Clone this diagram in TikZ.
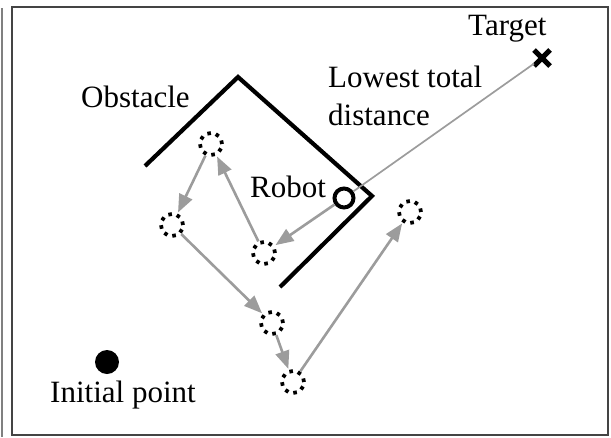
\documentclass[tikz,border=0pt]{standalone}
\usepackage{fontspec}
\setmainfont{Liberation Serif}
\usetikzlibrary{arrows.meta,shapes.misc}
\definecolor{pathgray}{HTML}{9C9C9C}
\definecolor{framegray}{HTML}{444444}
\tikzset{
  waypoint/.style={circle, draw=black, line width=3.8pt, minimum size=22pt, inner sep=0pt,
    dash pattern=on 3.6pt off 5.04pt},
  robotnode/.style={circle, draw=black, line width=4pt, minimum size=19pt, inner sep=0pt},
  startnode/.style={circle, fill=black, minimum size=24pt, inner sep=0pt},
  targetnode/.style={cross out, draw=black, line width=5pt, minimum size=11pt, inner sep=0pt},
  label/.style={inner sep=0pt, anchor=base west, font=\fontsize{31}{38}\selectfont},
  move/.style={draw=pathgray, line width=2.6pt, -{Triangle[length=18pt,width=14pt]}, shorten >=1pt},
  guide/.style={draw=pathgray, line width=1.7pt},
  wall/.style={draw=black, line width=4.2pt, line cap=butt, line join=miter}
}
\begin{document}
\begin{tikzpicture}[x=1pt,y=-1pt]
  \useasboundingbox (0,0) rectangle (611,437);
  % panel frame and the edge of the neighbouring panel
  \draw[framegray, line width=1.4pt] (12,7) rectangle (608,435);
  \draw[gray, line width=1.2pt] (2,8) -- (2,437);

  % obstacle
  \draw[wall] (145,166) -- (238,77) -- (372,196) -- (280,287);

  % nodes
  \node[robotnode]  (robot)  at (344,198) {};
  \node[targetnode] (target) at (542,58) {};
  \node[startnode]  (start)  at (107,362) {};
  \node[waypoint] (wa) at (211,144) {};
  \node[waypoint] (wb) at (172,225) {};
  \node[waypoint] (wc) at (264,253) {};
  \node[waypoint] (wd) at (272,323) {};
  \node[waypoint] (we) at (293,382) {};
  \node[waypoint] (wf) at (410,212) {};

  % connectors
  \draw[guide] (robot) -- (target);
  \draw[move] (robot) -- (wc);
  \draw[move] (wc) -- (wa);
  \draw[move] (wa) -- (wb);
  \draw[move] (wb) -- (wd);
  \draw[move] (wd) -- (we);
  \draw[move] (we) -- (wf);

  % labels
  \node[label] (ltarget) at (468,35) {Target};
  \node[label] (llow1) at (328,87) {Lowest total};
  \node[label] (llow2) at (328,125) {distance};
  \node[label] (lobst) at (81,107) {Obstacle};
  \node[label] (lrobot) at (250,197) {Robot};
  \node[label] (lstart) at (50,402) {Initial point};
\end{tikzpicture}
\end{document}
